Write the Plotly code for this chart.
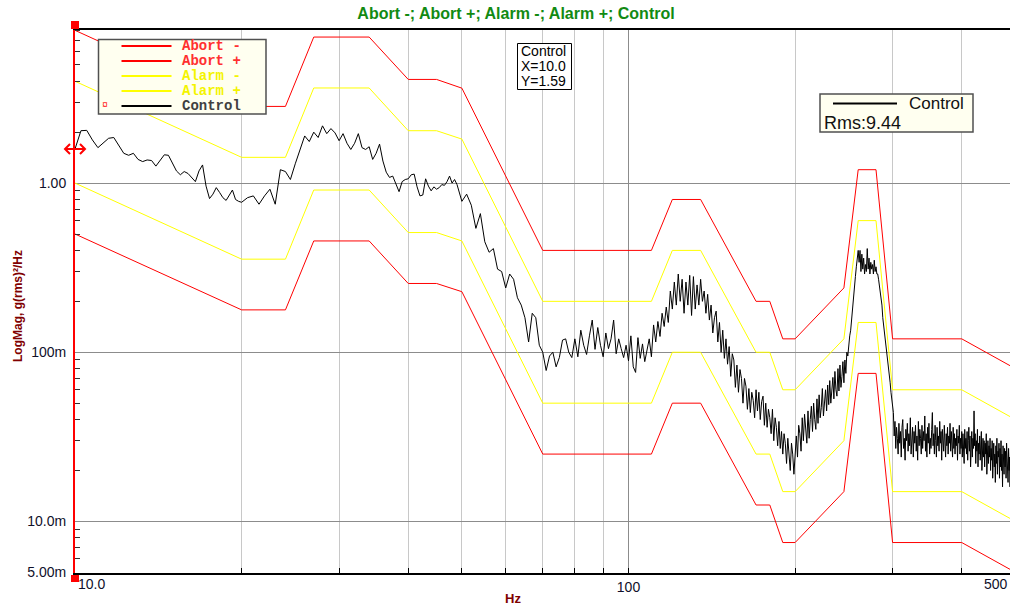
import numpy as np
import plotly.graph_objects as go

# ---------------- test profile: breakpoints and tolerance lines (g²/Hz) ----------------
profile_freq = [10, 20, 24, 27, 34, 40, 45, 50, 70, 110, 120, 135, 170, 180, 190, 200, 245, 260, 280, 300, 400, 500]
abort_minus = [0.5, 0.178, 0.178, 0.455, 0.455, 0.255, 0.255, 0.228, 0.025, 0.025, 0.05, 0.05,
               0.0125, 0.0125, 0.0075, 0.0075, 0.015, 0.075, 0.075, 0.0075, 0.0075, 0.005]
abort_plus = [8.0, 2.84, 2.84, 7.3, 7.3, 4.1, 4.1, 3.64, 0.40, 0.40, 0.80, 0.80,
              0.20, 0.20, 0.12, 0.12, 0.24, 1.2, 1.2, 0.12, 0.12, 0.08]
alarm_minus = [1.0, 0.355, 0.355, 0.91, 0.91, 0.51, 0.51, 0.455, 0.05, 0.05, 0.10, 0.10,
               0.025, 0.025, 0.015, 0.015, 0.03, 0.15, 0.15, 0.015, 0.015, 0.01]
alarm_plus = [4.0, 1.42, 1.42, 3.65, 3.65, 2.04, 2.04, 1.82, 0.20, 0.20, 0.40, 0.40,
              0.10, 0.10, 0.06, 0.06, 0.12, 0.60, 0.60, 0.06, 0.06, 0.04]

# ---------------- control spectrum ----------------
# frequency bands of the analyser output: (first line, last line, resolution) in Hz
ctrl_bands = [(10.0, 20.0, 0.25), (20.5, 50.0, 0.5), (51.0, 500.0, 1.0)]
ctrl_psd = [
    # 10 - 20 Hz
    1.59, 2.04, 2.05, 1.80, 1.62, 1.73, 1.84, 1.86, 1.66, 1.50,
    1.46, 1.50, 1.38, 1.34, 1.37, 1.36, 1.26, 1.36, 1.47, 1.46,
    1.30, 1.18, 1.12, 1.17, 1.14, 1.07, 1.02, 1.18, 1.28, 0.96,
    0.81, 0.86, 0.94, 0.88, 0.82, 0.79, 0.85, 0.91, 0.80, 0.78,
    0.77,
    # 20.5 - 50 Hz
    0.82, 0.84, 0.75, 0.84, 0.92, 0.75, 1.20, 1.17, 1.05, 1.30,
    1.60, 1.90, 1.76, 2.00, 1.86, 2.18, 1.96, 2.10, 1.98, 1.78,
    1.96, 1.72, 1.58, 1.72, 1.96, 1.62, 1.58, 1.64, 1.38, 1.50,
    1.70, 1.35, 1.16, 1.08, 1.10, 0.98, 0.89, 1.02, 1.05, 1.06,
    1.12, 1.13, 0.95, 0.84, 0.85, 1.06, 0.96, 0.90, 0.95, 0.92,
    0.94, 0.98, 0.97, 1.02, 1.10, 1.00, 1.05, 0.98, 0.88, 0.78,
    # 51 - 100 Hz
    0.86, 0.74, 0.54, 0.66, 0.45, 0.39, 0.41, 0.31, 0.30, 0.24,
    0.29, 0.27, 0.21, 0.19, 0.16, 0.115, 0.17, 0.16, 0.11, 0.10,
    0.078, 0.095, 0.10, 0.082, 0.093, 0.118, 0.12, 0.10, 0.093, 0.12,
    0.094, 0.135, 0.11, 0.097, 0.125, 0.155, 0.104, 0.14, 0.11, 0.094,
    0.13, 0.105, 0.12, 0.155, 0.098, 0.12, 0.105, 0.093, 0.11, 0.089,
    # 101 - 200 Hz
    0.125, 0.082, 0.076, 0.122, 0.092, 0.112, 0.088, 0.104, 0.12, 0.094,
    0.145, 0.115, 0.152, 0.124, 0.17, 0.142, 0.185, 0.15, 0.23, 0.18,
    0.26, 0.19, 0.29, 0.20, 0.27, 0.17, 0.26, 0.19, 0.285, 0.165,
    0.28, 0.18, 0.25, 0.19, 0.27, 0.20, 0.23, 0.17, 0.22, 0.155,
    0.19, 0.13, 0.16, 0.175, 0.115, 0.15, 0.10, 0.135, 0.092, 0.12,
    0.085, 0.108, 0.072, 0.098, 0.09, 0.062, 0.084, 0.058, 0.079, 0.07,
    0.05, 0.07, 0.063, 0.046, 0.061, 0.044, 0.058, 0.052, 0.041, 0.06,
    0.045, 0.058, 0.04, 0.051, 0.055, 0.037, 0.05, 0.036, 0.046, 0.041,
    0.033, 0.046, 0.03, 0.041, 0.036, 0.028, 0.039, 0.027, 0.034, 0.025,
    0.033, 0.029, 0.022, 0.031, 0.024, 0.02, 0.029, 0.025, 0.019, 0.024,
    # 201 - 300 Hz
    0.032, 0.024, 0.037, 0.033, 0.026, 0.041, 0.030, 0.043, 0.036, 0.029,
    0.045, 0.031, 0.040, 0.048, 0.034, 0.050, 0.040, 0.035, 0.053, 0.038,
    0.056, 0.041, 0.047, 0.061, 0.042, 0.055, 0.060, 0.045, 0.064, 0.049,
    0.068, 0.050, 0.058, 0.071, 0.053, 0.077, 0.060, 0.055, 0.080, 0.059,
    0.084, 0.062, 0.072, 0.088, 0.066, 0.090, 0.075, 0.10, 0.095, 0.115,
    0.125, 0.135, 0.16, 0.18, 0.21, 0.25, 0.28, 0.32, 0.36, 0.40,
    0.34, 0.40, 0.30, 0.38, 0.31, 0.36, 0.29, 0.33, 0.30, 0.41,
    0.31, 0.36, 0.29, 0.34, 0.31, 0.33, 0.29, 0.35, 0.30, 0.32,
    0.29, 0.29, 0.27, 0.25, 0.23, 0.21, 0.19, 0.16, 0.145, 0.13,
    0.115, 0.105, 0.097, 0.09, 0.085, 0.075, 0.066, 0.058, 0.052, 0.048,
    # 301 - 500 Hz
    0.044, 0.032, 0.039, 0.027, 0.036, 0.031, 0.025, 0.038, 0.029, 0.034,
    0.024, 0.036, 0.040, 0.027, 0.031, 0.023, 0.035, 0.030, 0.038, 0.026,
    0.033, 0.028, 0.041, 0.025, 0.030, 0.036, 0.024, 0.034, 0.029, 0.037,
    0.026, 0.032, 0.023, 0.039, 0.028, 0.035, 0.031, 0.025, 0.037, 0.027,
    0.034, 0.030, 0.042, 0.026, 0.033, 0.024, 0.036, 0.029, 0.038, 0.025,
    0.031, 0.027, 0.035, 0.044, 0.028, 0.033, 0.025, 0.037, 0.030, 0.024,
    0.036, 0.028, 0.032, 0.026, 0.039, 0.029, 0.034, 0.023, 0.035, 0.030,
    0.026, 0.037, 0.031, 0.024, 0.033, 0.028, 0.036, 0.025, 0.032, 0.029,
    0.038, 0.026, 0.034, 0.030, 0.024, 0.036, 0.027, 0.033, 0.025, 0.031,
    0.028, 0.035, 0.023, 0.032, 0.029, 0.037, 0.025, 0.031, 0.027, 0.034,
    0.024, 0.033, 0.029, 0.022, 0.035, 0.027, 0.031, 0.025, 0.034, 0.023,
    0.030, 0.036, 0.026, 0.032, 0.021, 0.029, 0.034, 0.024, 0.031, 0.027,
    0.045, 0.028, 0.033, 0.022, 0.030, 0.026, 0.035, 0.021, 0.029, 0.025,
    0.032, 0.023, 0.028, 0.034, 0.020, 0.027, 0.031, 0.024, 0.030, 0.021,
    0.029, 0.025, 0.033, 0.019, 0.027, 0.030, 0.022, 0.028, 0.024, 0.031,
    0.020, 0.027, 0.023, 0.030, 0.018, 0.026, 0.029, 0.021, 0.025, 0.017,
    0.028, 0.022, 0.031, 0.019, 0.026, 0.024, 0.029, 0.018, 0.027, 0.021,
    0.030, 0.020, 0.025, 0.016, 0.028, 0.023, 0.019, 0.027, 0.021, 0.026,
    0.018, 0.029, 0.022, 0.025, 0.017, 0.027, 0.020, 0.024, 0.016, 0.028,
    0.021, 0.030, 0.023, 0.032, 0.022, 0.029, 0.025, 0.033, 0.024, 0.030,
]

cursor_freq = 10.0
rms_label = "Rms:9.44"

# y tick labels (engineering notation)
y_tickvals = [0.005, 0.01, 0.1, 1.0]
y_ticktext = ["5.00m", "10.0m", "100m", "1.00"]

# ---------------- build frequency axis of the control spectrum ----------------
ctrl_freq = np.concatenate([np.arange(a, b + s / 2, s) for a, b, s in ctrl_bands])
if len(ctrl_freq) != len(ctrl_psd):
    raise ValueError(f"{len(ctrl_freq)} lines vs {len(ctrl_psd)} values")
cursor_psd = ctrl_psd[int(np.argmin(np.abs(ctrl_freq - cursor_freq)))]

# ---------------- page geometry ----------------
W, H = 1010, 607
PL, PR, PT, PB = 75, 1010, 30, 573          # plot box in pixels
DECADE_PX = 553.5
x_range = [1.0, 1.0 + (PR - PL) / DECADE_PX]
y_range = [-2.305, 0.905]


def px(x):
    return (x - PL) / (PR - PL)


def py(y):
    return (PB - y) / (PB - PT)


fig = go.Figure()
limit_specs = [
    ("Abort -", abort_minus, "#ff0000"),
    ("Abort +", abort_plus, "#ff0000"),
    ("Alarm -", alarm_minus, "#ffff00"),
    ("Alarm +", alarm_plus, "#ffff00"),
]
for name, vals, col in limit_specs:
    fig.add_trace(go.Scatter(x=profile_freq, y=vals, mode="lines", name=name,
                             line=dict(color=col, width=1), showlegend=False))
fig.add_trace(go.Scatter(x=ctrl_freq, y=ctrl_psd, mode="lines", name="Control",
                         line=dict(color="#000000", width=1), showlegend=False))

tick_font = dict(family="Liberation Sans", size=14, color="#10102a")
x_minor = [20, 30, 40, 50, 60, 70, 80, 90, 200, 300, 400]
y_minor = [v for e in (-3, -2, -1, 0) for v in [k * 10.0 ** e for k in range(2, 10)]
           if 0.005 < v < 8.1 and abs(v - 0.005) > 1e-9]

fig.update_layout(
    width=W, height=H,
    margin=dict(l=PL, r=W - PR, t=PT, b=H - PB),
    paper_bgcolor="white", plot_bgcolor="white",
    font=dict(family="Liberation Sans", size=13, color="#000"),
    title=dict(text="<b>Abort -; Abort +; Alarm -; Alarm +; Control</b>",
               font=dict(family="Liberation Sans", size=16, color="#128a12"),
               x=516 / W, xanchor="center", xref="container",
               y=1 - 13 / H, yanchor="middle", yref="container"),
    xaxis=dict(type="log", range=x_range, showline=True, linecolor="#000", linewidth=2,
               mirror=True, zeroline=False,
               tickmode="array", tickvals=[100], ticktext=["100"], tickfont=tick_font,
               ticks="inside", ticklen=5, tickcolor="#000",
               showgrid=True, gridcolor="#8c8c8c", gridwidth=1,
               minor=dict(tickmode="array", tickvals=x_minor, ticks="inside", ticklen=5,
                          tickcolor="#000", showgrid=True, gridcolor="#c8c8c8", gridwidth=1)),
    yaxis=dict(type="log", range=y_range, showline=True, linecolor="#ff0000", linewidth=2,
               mirror=False, zeroline=False,
               tickmode="array", tickvals=y_tickvals, ticktext=y_ticktext, tickfont=tick_font,
               ticks="", ticklabelstandoff=4,
               showgrid=True, gridcolor="#8c8c8c", gridwidth=1,
               minor=dict(tickmode="array", tickvals=y_minor, ticks="inside", ticklen=5,
                          tickcolor="#333", showgrid=False)),
    showlegend=False,
)

shapes = []
annos = []


def text_at(txt, x, y, xanchor="left", yanchor="middle", **kw):
    annos.append(dict(text=txt, x=px(x), y=py(y), xref="paper", yref="paper",
                      xanchor=xanchor, yanchor=yanchor, showarrow=False, **kw))


# axis titles and edge frequency labels
text_at("<b>Hz</b>", 513, 598, xanchor="center", font=dict(size=13, color="#7f0000"))
text_at("<b>LogMag, g(rms)²/Hz</b>", 18, 306, xanchor="center", textangle=-90,
        font=dict(size=12, color="#7f0000"))
text_at("10.0", 76, 584, font=tick_font)
text_at("500", 1010, 584, xanchor="right", font=tick_font)

# cursor handles at the left axis
for y0, y1 in [(21, 29), (575, 582)]:
    shapes.append(dict(type="rect", xref="paper", yref="paper", x0=px(71), x1=px(79),
                       y0=py(y1), y1=py(y0), fillcolor="#ff0000", line=dict(width=0), layer="above"))
cur_y = (np.log10(cursor_psd) - y_range[0]) / (y_range[1] - y_range[0])
shapes.append(dict(type="path", xref="paper", yref="paper", xsizemode="pixel", ysizemode="pixel",
                   xanchor=0, yanchor=cur_y,
                   path="M-10,0L10,0M-5,5L-10,0L-5,-5M5,5L10,0L5,-5",
                   line=dict(color="#ff0000", width=2), layer="above"))

# cursor read-out box
shapes.append(dict(type="rect", xref="paper", yref="paper", x0=px(517.5), x1=px(571.5),
                   y0=py(89.5), y1=py(43.5), fillcolor="white",
                   line=dict(color="#000", width=1), layer="above"))
for i, line in enumerate(["Control", f"X={cursor_freq:.1f}", f"Y={cursor_psd:.2f}"]):
    text_at(line, 519, 51 + 15 * i, font=dict(family="Liberation Sans", size=14, color="#000"))

# trace legend box
shapes.append(dict(type="rect", xref="paper", yref="paper", x0=px(98.5), x1=px(266),
                   y0=py(114), y1=py(39.5), fillcolor="#fffff0",
                   line=dict(color="#505050", width=1.5), layer="above"))
legend_rows = [("Abort -", "#ff0000", "#ff3030"), ("Abort +", "#ff0000", "#ff3030"),
               ("Alarm -", "#ffff00", "#f4f400"), ("Alarm +", "#ffff00", "#f4f400"),
               ("Control", "#000000", "#404040")]
for i, (lab, lc, tc) in enumerate(legend_rows):
    yy = 46 + 15 * i
    shapes.append(dict(type="line", xref="paper", yref="paper", x0=px(121.5), x1=px(171.5),
                       y0=py(yy), y1=py(yy), line=dict(color=lc, width=2), layer="above"))
    text_at(f"<b>{lab}</b>", 180, yy, font=dict(family="Liberation Mono", size=14, color=tc))
text_at("¤", 105, 106, xanchor="center", font=dict(family="Liberation Mono", size=10, color="#ff2020"))

# RMS box
shapes.append(dict(type="rect", xref="paper", yref="paper", x0=px(820), x1=px(973),
                   y0=py(132), y1=py(94), fillcolor="#fffff0",
                   line=dict(color="#505050", width=1.5), layer="above"))
shapes.append(dict(type="line", xref="paper", yref="paper", x0=px(833), x1=px(897),
                   y0=py(103.5), y1=py(103.5), line=dict(color="#000", width=2), layer="above"))
text_at("Control", 907, 104, font=dict(family="Liberation Sans", size=17, color="#111"))
text_at(rms_label, 822, 123, font=dict(family="Liberation Sans", size=18, color="#111"))

fig.update_layout(shapes=shapes, annotations=annos)
fig.write_html("out.html")
